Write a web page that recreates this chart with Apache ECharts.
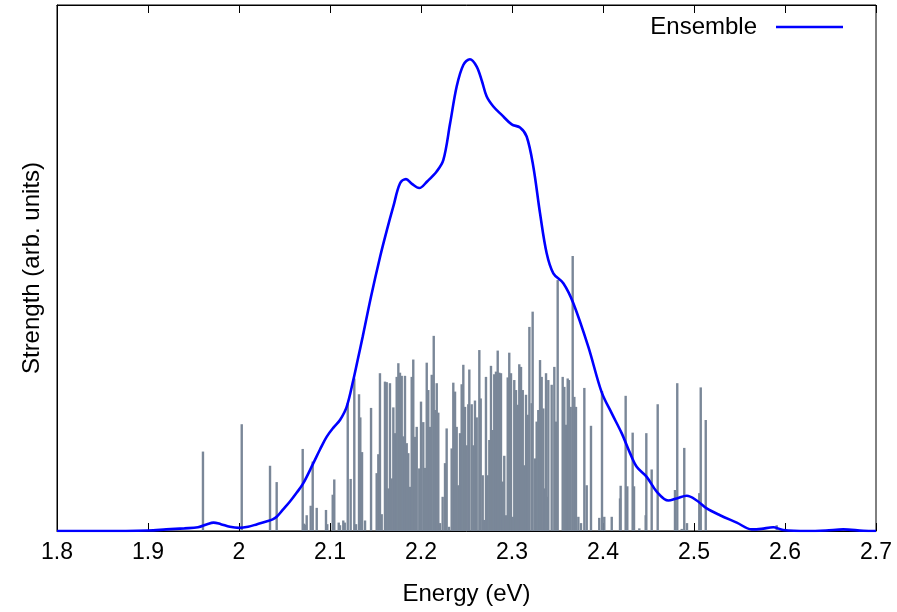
<!DOCTYPE html>
<html>
<head>
<meta charset="utf-8">
<script src="https://cdn.jsdelivr.net/npm/echarts@6/dist/echarts.min.js"></script>
<style>
html,body{margin:0;padding:0;background:#fff;}
#chart{width:897px;height:612px;}
</style>
</head>
<body>
<div id="chart"></div>
<script>
// Ensemble spectrum (energy in eV, strength in arb. units)
const curveE = [1.80,1.85,1.90,1.92,1.94,1.955,1.965,1.972,1.98,1.99,2.0,2.01,2.02,2.03,2.037,2.0414,2.048,2.056,2.0635,2.0707,2.0817,2.089,2.0963,2.104,2.111,2.1183,2.1256,2.131,2.136,2.145,2.155,2.1625,2.1696,2.177,2.1835,2.19,2.198,2.207,2.217,2.2245,2.232,2.2392,2.2465,2.2538,2.2612,2.267,2.2722,2.2795,2.2887,2.2997,2.3088,2.3161,2.3234,2.3308,2.3381,2.3454,2.3564,2.3674,2.3839,2.3985,2.4095,2.4205,2.4297,2.437,2.448,2.459,2.4718,2.481,2.492,2.503,2.514,2.5286,2.547,2.5634,2.574,2.587,2.598,2.624,2.645,2.664,2.686,2.7];
const curveV = [0,0,0.001,0.003,0.005,0.007,0.013,0.016,0.013,0.008,0.006,0.008,0.013,0.018,0.022,0.027,0.040,0.056,0.073,0.091,0.129,0.155,0.179,0.197,0.211,0.236,0.287,0.33,0.37,0.445,0.521,0.572,0.617,0.661,0.669,0.660,0.652,0.665,0.683,0.705,0.775,0.845,0.886,0.897,0.883,0.855,0.826,0.807,0.791,0.773,0.767,0.750,0.693,0.604,0.528,0.490,0.471,0.433,0.350,0.264,0.224,0.186,0.148,0.122,0.103,0.075,0.058,0.062,0.067,0.058,0.043,0.030,0.016,0.003,0.004,0.007,0.002,0,0.001,0.003,0.0005,0];

// Individual transitions (sticks)
const stickE = [1.9604,2.0030,2.0341,2.0414,2.0700,2.0714,2.0729,2.0744,2.0788,2.0810,2.0854,2.0956,2.0970,2.1030,2.1047,2.1096,2.1110,2.1146,2.1162,2.1195,2.1227,2.1267,2.1286,2.1319,2.1333,2.1352,2.1385,2.1451,2.1513,2.1531,2.1549,2.1568,2.1604,2.1623,2.1641,2.1659,2.1678,2.1696,2.1714,2.1733,2.1751,2.1769,2.1788,2.1805,2.1824,2.1843,2.1860,2.1879,2.1898,2.1915,2.1934,2.1953,2.1981,2.2000,2.2025,2.2044,2.2063,2.2080,2.2099,2.2118,2.2140,2.2154,2.2173,2.2190,2.2209,2.2238,2.2264,2.2282,2.2308,2.2337,2.2355,2.2374,2.2392,2.2410,2.2429,2.2447,2.2465,2.2484,2.2502,2.2520,2.2531,2.2557,2.2575,2.2593,2.2612,2.2641,2.2656,2.2678,2.2692,2.2714,2.2733,2.2751,2.2769,2.2788,2.2805,2.2824,2.2843,2.2860,2.2879,2.2898,2.2915,2.2934,2.2953,2.2970,2.2989,2.3008,2.3025,2.3044,2.3063,2.3080,2.3099,2.3118,2.3135,2.3154,2.3173,2.3191,2.3216,2.3227,2.3253,2.3271,2.3289,2.3308,2.3326,2.3344,2.3363,2.3374,2.3392,2.3399,2.3436,2.3465,2.3484,2.3502,2.3557,2.3575,2.3593,2.3612,2.3626,2.3645,2.3667,2.3685,2.3703,2.3729,2.3758,2.3795,2.3821,2.3868,2.3959,2.3989,2.4014,2.4096,2.4187,2.4194,2.4249,2.4267,2.4326,2.4341,2.4399,2.4469,2.4476,2.4535,2.4601,2.4791,2.4816,2.4865,2.4893,2.4923,2.5058,2.5074,2.5129,2.5909];
const stickS = [0.151,0.203,0.124,0.093,0.156,0.014,0.012,0.030,0.048,0.132,0.044,0.040,0.013,0.069,0.098,0.016,0.011,0.020,0.016,0.243,0.099,0.290,0.013,0.260,0.216,0.150,0.020,0.234,0.110,0.146,0.300,0.032,0.284,0.283,0.081,0.281,0.100,0.235,0.186,0.293,0.319,0.301,0.295,0.180,0.295,0.167,0.148,0.084,0.293,0.326,0.179,0.198,0.119,0.246,0.207,0.120,0.320,0.268,0.198,0.297,0.371,0.230,0.281,0.225,0.015,0.065,0.129,0.195,0.008,0.157,0.282,0.265,0.198,0.087,0.186,0.279,0.316,0.236,0.163,0.241,0.307,0.241,0.163,0.248,0.216,0.344,0.252,0.106,0.021,0.293,0.106,0.173,0.314,0.192,0.298,0.303,0.343,0.301,0.300,0.094,0.143,0.030,0.292,0.339,0.300,0.027,0.287,0.268,0.240,0.317,0.312,0.268,0.125,0.259,0.221,0.388,0.243,0.417,0.138,0.208,0.230,0.325,0.293,0.233,0.081,0.300,0.065,0.287,0.278,0.312,0.208,0.477,0.293,0.274,0.202,0.290,0.287,0.236,0.523,0.255,0.236,0.027,0.015,0.272,0.087,0.200,0.025,0.266,0.027,0.027,0.062,0.086,0.257,0.085,0.187,0.085,0.005,0.030,0.186,0.117,0.241,0.078,0.281,0.004,0.158,0.015,0.072,0.273,0.211,0.011];

const xMin = 1.8, xMax = 2.7, xStep = 0.1;
const seriesName = 'Ensemble';
const xTitle = 'Energy (eV)';
const yTitle = 'Strength (arb. units)';

const FONT = '"Liberation Sans", Arial, Helvetica, sans-serif';
const chart = echarts.init(document.getElementById('chart'), null, {renderer: 'canvas'});

const curveData = curveE.map((e, i) => [e, curveV[i]]);
const stickData = stickE.map((e, i) => [e, stickS[i]]);

chart.setOption({
  animation: false,
  backgroundColor: '#fff',
  textStyle: {fontFamily: FONT},
  grid: {left: 57, right: 21, top: 5, bottom: 81, show: true, borderColor: '#000', borderWidth: 1, backgroundColor: 'transparent'},
  legend: {
    data: [{name: seriesName, icon: 'rect'}],
    right: 49, top: 10, align: 'right',
    itemWidth: 67, itemHeight: 2.5,
    textStyle: {fontFamily: FONT, fontSize: 24, color: '#000', padding: [0, 14, 0, 0]},
    selectedMode: false
  },
  xAxis: [{
    type: 'value', min: xMin, max: xMax, interval: xStep, position: 'bottom',
    name: xTitle, nameLocation: 'middle', nameGap: 51,
    nameTextStyle: {fontFamily: FONT, fontSize: 24, color: '#000'},
    axisLine: {show: true, onZero: false, lineStyle: {color: '#000', width: 1}},
    axisTick: {show: true, inside: true, length: 8, lineStyle: {color: '#000'}},
    axisLabel: {fontFamily: FONT, fontSize: 23, color: '#000', margin: 10},
    splitLine: {show: false}
  }, {
    type: 'value', min: xMin, max: xMax, interval: xStep, position: 'top',
    axisLine: {show: true, onZero: false, lineStyle: {color: '#000', width: 1}},
    axisTick: {show: true, inside: true, length: 8, lineStyle: {color: '#000'}},
    axisLabel: {show: false},
    splitLine: {show: false}
  }],
  yAxis: {
    type: 'value', min: 0, max: 1,
    name: yTitle, nameLocation: 'middle', nameGap: 13,
    nameTextStyle: {fontFamily: FONT, fontSize: 24, color: '#000'},
    axisLine: {show: true, lineStyle: {color: '#000'}},
    axisTick: {show: false}, axisLabel: {show: false}, splitLine: {show: false}
  },
  series: [{
    name: 'sticks', type: 'bar', xAxisIndex: 0, data: stickData,
    barWidth: 2.4, itemStyle: {color: '#7a8798'}, silent: true, z: 2
  }, {
    name: seriesName, type: 'line', xAxisIndex: 0, data: curveData,
    smooth: 0.35, showSymbol: false, symbol: 'none',
    lineStyle: {color: '#0000ff', width: 2.6}, itemStyle: {color: '#0000ff'}, z: 3
  }]
});
</script>
</body>
</html>
